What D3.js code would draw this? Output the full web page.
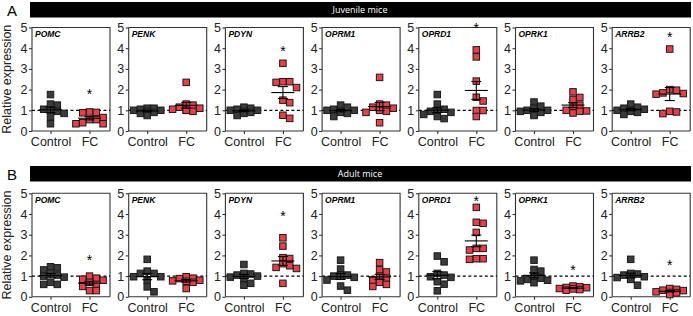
<!DOCTYPE html>
<html lang="en">
<head>
<meta charset="UTF-8">
<title>Relative expression</title>
<script src="https://d3js.org/d3.v7.min.js"></script>
<style>
    body { margin: 0; background: #fff; font-family: "Liberation Sans", Arial, sans-serif; }
    .axis text { font-size: 12.5px; fill: #222; font-family: "Liberation Sans", Arial, sans-serif; }
    .axis path, .axis line { stroke: #333; stroke-width: 1.1px; }
</style>
</head>
<body>
<script>
// ---- data ----
const genes = ["POMC", "PENK", "PDYN", "OPRM1", "OPRD1", "OPRK1", "ARRB2"];
const groups = ["Control", "FC"];
const yTicks = [0, 1, 2, 3, 4, 5];

// juvenile mice, one array per gene
const juvenileControl = [
    [1.76, 1.3, 1.25, 1.0, 0.95, 1.05, 0.85, 0.7, 0.35],
    [1.1, 1.1, 1.05, 1.0, 1.0, 0.95, 0.9, 0.85, 0.75],
    [1.15, 1.1, 1.05, 1.0, 1.0, 0.95, 0.9, 0.85, 0.75],
    [1.25, 1.15, 1.05, 1.0, 1.0, 0.95, 0.9, 0.85, 0.7],
    [1.76, 1.3, 1.05, 1.0, 0.95, 0.9, 0.8, 0.7, 0.6],
    [1.4, 1.2, 1.1, 1.0, 1.0, 0.95, 0.9, 0.8, 0.75],
    [1.3, 1.15, 1.1, 1.05, 1.0, 1.0, 0.95, 0.9, 0.8]
];
const juvenileFC = [
    [0.92, 0.9, 0.88, 0.65, 0.55, 0.55, 0.4, 0.35, 0.35],
    [2.35, 1.3, 1.25, 1.15, 1.1, 1.05, 1.0, 1.0, 0.95],
    [3.27, 2.38, 2.38, 2.35, 2.1, 1.49, 1.37, 0.61, 0.76],
    [2.59, 1.3, 1.25, 1.15, 1.1, 1.0, 0.95, 0.9, 0.4],
    [3.92, 3.58, 2.41, 1.63, 1.45, 0.99, 0.99, 0.7],
    [1.89, 1.62, 1.52, 1.25, 1.2, 1.0, 0.97, 0.87, 0.95],
    [3.96, 1.81, 1.97, 2.0, 1.78, 1.84, 0.95, 0.84, 0.92]
];
const juvenileStars = [1.95, null, 4.0, null, 5.1, null, 4.7];

// adult mice
const adultControl = [
    [1.45, 1.4, 1.3, 1.15, 1.05, 1.0, 0.95, 0.7, 0.6, 0.6],
    [1.81, 1.13, 1.24, 1.13, 0.97, 0.97, 0.81, 0.48, 0.24],
    [1.56, 1.13, 1.1, 1.05, 1.0, 0.95, 0.89, 0.65, 0.56],
    [1.77, 1.34, 1.05, 1.05, 1.0, 0.94, 0.81, 0.52, 0.32],
    [1.97, 1.69, 1.13, 1.05, 0.97, 0.94, 0.73, 0.61, 0.29],
    [1.77, 1.32, 1.24, 1.0, 0.9, 0.84, 0.8, 0.77, 0.68],
    [1.81, 1.13, 1.1, 1.05, 0.97, 0.93, 0.89, 0.84, 0.56]
];
const adultFC = [
    [1.0, 0.9, 0.85, 0.8, 0.7, 0.6, 0.5, 0.3, 0.3],
    [0.97, 0.9, 0.88, 0.8, 0.77, 0.75, 0.7, 0.4],
    [2.85, 2.45, 1.89, 1.85, 1.6, 1.5, 1.42, 1.37, 0.65],
    [1.65, 1.3, 1.2, 1.0, 0.9, 0.8, 0.7, 0.6, 0.5],
    [4.32, 3.6, 3.55, 3.11, 2.34, 2.26, 2.34, 1.84, 1.81, 1.84],
    [0.52, 0.48, 0.45, 0.44, 0.4, 0.38, 0.35, 0.32],
    [0.4, 0.36, 0.32, 0.3, 0.24, 0.21, 0.19, 0.11]
];
const adultStars = [1.94, null, 4.03, null, 4.76, 1.45, 1.69];

const rows = [
    { letter: "A", title: "Juvenile mice", control: juvenileControl, fc: juvenileFC, stars: juvenileStars },
    { letter: "B", title: "Adult mice", control: adultControl, fc: adultFC, stars: adultStars }
];

// ---- layout ----
const width = 693, height = 316;
const panelW = 78, panelH = 103.5, panelStep = 96.7, panelX0 = 32;
const rowTops = [27.5, 193.3];
const barTops = [2, 166];
const markSize = 6.5;
const colors = { Control: "#3b3b3b", FC: "#e8404a" };

const svg = d3.select("body").append("svg")
    .attr("width", width)
    .attr("height", height);

const y = d3.scaleLinear().domain([0, 5]).range([panelH, 0]);
const x = d3.scalePoint().domain(groups).range([-1, panelW - 1]).padding(0.5);

// greedy swarm: near-equal values sit side by side, like Prism's scatter
function swarm(values) {
    const placed = [];
    const order = values.map((v, i) => ({ v, i })).sort((a, b) => b.v - a.v);
    const gapX = 6.8, gapY = 5.8, step = 3.4, maxOff = 14;
    const cands = [0];
    for (let o = step; o <= maxOff; o += step) cands.push(o, -o);
    order.forEach(p => {
        const py = y(p.v);
        let best = null, bestHits = Infinity;
        for (const off of cands) {
            const hits = placed.filter(q => Math.abs(q.dx - off) < gapX && Math.abs(q.py - py) < gapY).length;
            if (hits < bestHits) { bestHits = hits; best = off; }
            if (hits === 0) break;
        }
        placed.push({ v: p.v, dx: best, py });
    });
    return placed;
}

function meanSem(values) {
    const m = d3.mean(values);
    const sem = d3.deviation(values) / Math.sqrt(values.length);
    return { m, sem };
}

rows.forEach((row, r) => {
    const top = rowTops[r];

    // row letter and black header bar
    svg.append("text")
        .attr("x", 7).attr("y", barTops[r] + 14)
        .attr("font-size", 15)
        .text(row.letter);

    svg.append("rect")
        .attr("x", 30).attr("y", barTops[r])
        .attr("width", 661).attr("height", 15.5)
        .attr("fill", "#000");

    svg.append("text")
        .attr("x", 360).attr("y", barTops[r] + 11)
        .attr("text-anchor", "middle")
        .attr("fill", "#fff")
        .attr("font-family", "'Open Sans', sans-serif")
        .attr("font-size", 9)
        .text(row.title);

    // y title
    svg.append("text")
        .attr("transform", `translate(10.5,${top + panelH / 2}) rotate(-90)`)
        .attr("text-anchor", "middle")
        .attr("font-size", 12.5)
        .attr("fill", "#222")
        .text("Relative expression");

    genes.forEach((gene, i) => {
        const g = svg.append("g")
            .attr("transform", `translate(${panelX0 + i * panelStep},${top})`);

        // frame (top and right)
        g.append("path")
            .attr("d", `M0,0H${panelW}V${panelH}`)
            .attr("fill", "none")
            .attr("stroke", "#333")
            .attr("stroke-width", 1.1);

        g.append("g").attr("class", "axis")
            .call(d3.axisLeft(y).tickValues(yTicks).tickFormat(d3.format("d")).tickSize(3).tickPadding(1.5))
            .call(a => a.select(".domain").attr("d", `M0,0V${panelH}`));

        g.append("g").attr("class", "axis")
            .attr("transform", `translate(0,${panelH})`)
            .call(d3.axisBottom(x).tickSize(3).tickPadding(3))
            .call(a => a.select(".domain").attr("d", `M0,0H${panelW}`));

        g.append("text")
            .attr("x", 3).attr("y", 9.5)
            .attr("font-size", 8.5)
            .attr("font-weight", "bold")
            .attr("font-style", "italic")
            .text(gene);

        // reference line at 1
        g.append("line")
            .attr("x1", 0).attr("x2", panelW)
            .attr("y1", y(1)).attr("y2", y(1))
            .attr("stroke", "#000")
            .attr("stroke-width", 1.2)
            .attr("stroke-dasharray", "3,2.5");

        groups.forEach(grp => {
            const vals = grp === "Control" ? row.control[i] : row.fc[i];
            const cx = x(grp);
            const pts = swarm(vals);

            g.append("g").selectAll("rect")
                .data(pts)
                .join("rect")
                .attr("x", d => cx + d.dx - markSize / 2)
                .attr("y", d => d.py - markSize / 2)
                .attr("width", markSize)
                .attr("height", markSize)
                .attr("fill", colors[grp])
                .attr("stroke", "#1a1a1a")
                .attr("stroke-width", 1);

            // mean +/- SEM
            const s = meanSem(vals);
            const lines = g.append("g").attr("stroke", "#000").attr("stroke-width", 1.1);
            lines.append("line")
                .attr("x1", cx - 11.5).attr("x2", cx + 11.5)
                .attr("y1", y(s.m)).attr("y2", y(s.m));
            lines.append("line")
                .attr("x1", cx).attr("x2", cx)
                .attr("y1", y(s.m - s.sem)).attr("y2", y(s.m + s.sem));
            [s.m - s.sem, s.m + s.sem].forEach(v => {
                lines.append("line")
                    .attr("x1", cx - 5).attr("x2", cx + 5)
                    .attr("y1", y(v)).attr("y2", y(v));
            });
        });

        if (row.stars[i] != null) {
            g.append("text")
                .attr("x", x("FC"))
                .attr("y", y(row.stars[i]) + 8)
                .attr("text-anchor", "middle")
                .attr("font-size", 14)
                .text("*");
        }
    });
});
</script>
</body>
</html>
